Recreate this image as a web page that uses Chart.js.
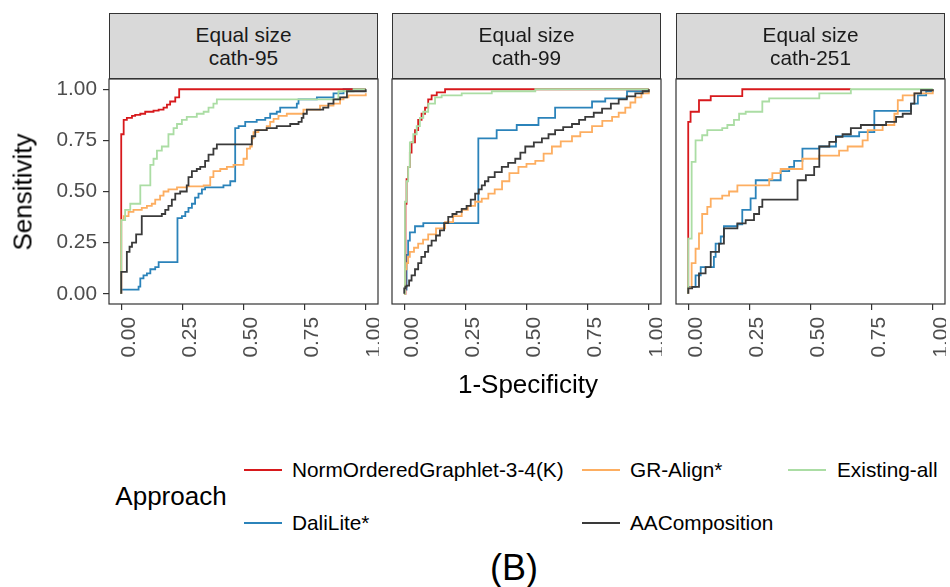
<!DOCTYPE html>
<html>
<head>
<meta charset="utf-8">
<script src="https://cdn.jsdelivr.net/npm/chart.js@4/dist/chart.umd.min.js"></script>
<style>
  html, body { margin: 0; padding: 0; background: #fff; }
  #wrap { position: relative; width: 950px; height: 587px; overflow: hidden; font-family: 'Liberation Sans', Arial, sans-serif; }
  #wrap canvas { position: absolute; }
  .strip { position: absolute; top: 13px; width: 269px; height: 66px; box-sizing: border-box;
    background: #D9D9D9; border: 1px solid #333; display: flex; align-items: center; justify-content: center;
    text-align: center; font-size: 20.8px; line-height: 23px; color: #1A1A1A; }
  .txt { position: absolute; white-space: nowrap; transform: translate(-50%, -50%); color: #000; }
  .key { position: absolute; height: 2px; }
  .lab { position: absolute; white-space: nowrap; font-size: 20.8px; color: #000; transform: translateY(-50%); }
</style>
</head>
<body>
<div id="wrap">
  <canvas id="p1"></canvas>
  <canvas id="p2"></canvas>
  <canvas id="p3"></canvas>
</div>
<script>
// ---- data ----
const tickValues = [0, 0.25, 0.5, 0.75, 1];
const panelTitles = [['Equal size', 'cath-95'], ['Equal size', 'cath-99'], ['Equal size', 'cath-251']];
const seriesNames = ['NormOrderedGraphlet-3-4(K)', 'GR-Align*', 'Existing-all', 'DaliLite*', 'AAComposition'];

// cath-95
const c95NormX = [0, 0, 0.01, 0.023, 0.044, 0.057, 0.078, 0.098, 0.132, 0.153, 0.173, 0.187, 0.2, 0.221, 0.237, 1];
const c95NormY = [0, 0.78, 0.85, 0.86, 0.87, 0.875, 0.88, 0.89, 0.895, 0.9, 0.91, 0.925, 0.94, 0.96, 1, 1];
const c95GrX = [0, 0, 0.01, 0.03, 0.05, 0.084, 0.105, 0.125, 0.139, 0.159, 0.173, 0.193, 0.228, 0.268, 0.337, 0.364, 0.377, 0.405, 0.432, 0.459, 0.5, 0.514, 0.527, 0.534, 0.541, 0.561, 0.595, 0.609, 0.623, 0.643, 0.677, 0.745, 0.813, 0.868, 0.895, 0.909, 0.929, 1];
const c95GrY = [0, 0.36, 0.38, 0.4, 0.41, 0.42, 0.43, 0.44, 0.46, 0.48, 0.5, 0.51, 0.52, 0.525, 0.53, 0.57, 0.6, 0.61, 0.62, 0.63, 0.66, 0.71, 0.72, 0.76, 0.79, 0.8, 0.82, 0.84, 0.855, 0.87, 0.88, 0.9, 0.92, 0.93, 0.95, 0.96, 0.97, 0.98];
const c95ExX = [0, 0, 0.016, 0.037, 0.078, 0.119, 0.132, 0.146, 0.166, 0.193, 0.214, 0.228, 0.248, 0.268, 0.309, 0.337, 0.357, 0.377, 0.391, 0.888, 0.95, 1];
const c95ExY = [0, 0.36, 0.41, 0.44, 0.53, 0.63, 0.66, 0.7, 0.72, 0.78, 0.81, 0.83, 0.85, 0.865, 0.88, 0.89, 0.91, 0.93, 0.95, 0.99, 1, 1];
const c95DaliX = [0, 0, 0.071, 0.078, 0.091, 0.105, 0.119, 0.139, 0.153, 0.23, 0.248, 0.262, 0.275, 0.289, 0.302, 0.316, 0.33, 0.343, 0.418, 0.446, 0.466, 0.48, 0.507, 0.554, 0.589, 0.609, 0.636, 0.65, 0.718, 0.725, 0.8, 0.868, 0.909, 1];
const c95DaliY = [0, 0.02, 0.035, 0.075, 0.09, 0.1, 0.12, 0.13, 0.155, 0.37, 0.38, 0.4, 0.42, 0.44, 0.47, 0.49, 0.51, 0.52, 0.53, 0.55, 0.81, 0.82, 0.84, 0.85, 0.86, 0.88, 0.89, 0.91, 0.93, 0.95, 0.96, 0.98, 1, 1];
const c95AaX = [0, 0, 0.023, 0.034, 0.044, 0.061, 0.084, 0.166, 0.18, 0.193, 0.207, 0.221, 0.241, 0.268, 0.275, 0.289, 0.309, 0.323, 0.343, 0.357, 0.377, 0.391, 0.534, 0.548, 0.595, 0.636, 0.691, 0.725, 0.738, 0.745, 0.759, 0.826, 0.847, 0.868, 0.895, 0.923, 1];
const c95AaY = [0, 0.107, 0.205, 0.23, 0.25, 0.29, 0.38, 0.39, 0.41, 0.43, 0.46, 0.49, 0.5, 0.53, 0.57, 0.6, 0.61, 0.62, 0.65, 0.68, 0.71, 0.73, 0.77, 0.8, 0.81, 0.82, 0.83, 0.84, 0.86, 0.88, 0.9, 0.91, 0.93, 0.95, 0.96, 0.99, 1];

// cath-99
const c99NormX = [0, 0.005, 0.0096, 0.016, 0.023, 0.03, 0.044, 0.057, 0.071, 0.085, 0.098, 0.112, 0.133, 0.167, 1];
const c99NormY = [0, 0.44, 0.56, 0.62, 0.69, 0.74, 0.8, 0.85, 0.88, 0.91, 0.95, 0.97, 0.985, 1, 1];
const c99GrX = [0, 0.003, 0.0096, 0.016, 0.023, 0.04, 0.057, 0.077, 0.098, 0.13, 0.167, 0.2, 0.235, 0.26, 0.29, 0.317, 0.344, 0.37, 0.4, 0.43, 0.467, 0.5, 0.536, 0.57, 0.604, 0.64, 0.686, 0.72, 0.768, 0.81, 0.85, 0.877, 0.904, 0.925, 0.945, 0.97, 1];
const c99GrY = [0, 0.12, 0.15, 0.18, 0.205, 0.225, 0.245, 0.265, 0.29, 0.32, 0.35, 0.38, 0.41, 0.43, 0.45, 0.465, 0.49, 0.51, 0.55, 0.59, 0.62, 0.635, 0.65, 0.685, 0.72, 0.745, 0.77, 0.79, 0.82, 0.845, 0.865, 0.885, 0.91, 0.935, 0.96, 0.98, 1];
const c99ExX = [0, 0.003, 0.0096, 0.016, 0.023, 0.037, 0.051, 0.064, 0.078, 0.098, 0.126, 0.153, 0.235, 0.358, 0.536, 1];
const c99ExY = [0, 0.45, 0.55, 0.62, 0.74, 0.78, 0.82, 0.86, 0.89, 0.93, 0.96, 0.97, 0.98, 0.99, 1, 1];
const c99DaliX = [0, 0.003, 0.0096, 0.016, 0.023, 0.044, 0.078, 0.303, 0.378, 0.46, 0.549, 0.617, 0.768, 0.822, 0.911, 1];
const c99DaliY = [0, 0.02, 0.19, 0.26, 0.3, 0.33, 0.345, 0.76, 0.8, 0.825, 0.86, 0.91, 0.94, 0.955, 0.99, 1];
const c99AaX = [0, 0, 0.005, 0.0096, 0.02, 0.03, 0.044, 0.057, 0.07, 0.085, 0.098, 0.112, 0.13, 0.146, 0.163, 0.18, 0.197, 0.214, 0.235, 0.255, 0.272, 0.29, 0.305, 0.317, 0.33, 0.344, 0.37, 0.399, 0.425, 0.454, 0.475, 0.495, 0.53, 0.563, 0.59, 0.617, 0.65, 0.686, 0.715, 0.74, 0.775, 0.809, 0.845, 0.877, 0.91, 0.945, 0.975, 1];
const c99AaY = [0, 0.026, 0.035, 0.04, 0.065, 0.09, 0.12, 0.15, 0.18, 0.205, 0.235, 0.26, 0.285, 0.31, 0.345, 0.376, 0.39, 0.4, 0.415, 0.43, 0.46, 0.49, 0.51, 0.53, 0.55, 0.57, 0.595, 0.62, 0.64, 0.66, 0.69, 0.72, 0.74, 0.76, 0.78, 0.8, 0.815, 0.83, 0.85, 0.865, 0.885, 0.905, 0.93, 0.95, 0.965, 0.98, 0.99, 1];

// cath-251
const c251NormX = [0, 0, 0.0096, 0.044, 0.092, 0.221, 0.665];
const c251NormY = [0, 0.84, 0.89, 0.946, 0.966, 1, 1];
const c251GrX = [0, 0, 0.014, 0.03, 0.044, 0.057, 0.078, 0.092, 0.139, 0.167, 0.201, 0.331, 0.344, 0.378, 0.467, 0.536, 0.617, 0.652, 0.713, 0.734, 0.795, 0.843, 0.857, 0.877, 0.925, 1];
const c251GrY = [0, 0.03, 0.15, 0.22, 0.295, 0.39, 0.425, 0.465, 0.48, 0.5, 0.53, 0.56, 0.59, 0.61, 0.66, 0.675, 0.7, 0.72, 0.75, 0.8, 0.825, 0.88, 0.946, 0.97, 0.98, 1];
const c251ExX = [0, 0, 0.014, 0.03, 0.057, 0.078, 0.139, 0.16, 0.187, 0.208, 0.235, 0.303, 0.331, 0.536, 0.665, 1];
const c251ExY = [0, 0.27, 0.645, 0.75, 0.775, 0.8, 0.81, 0.825, 0.85, 0.88, 0.89, 0.94, 0.955, 0.98, 1, 1];
const c251DaliX = [0, 0, 0.03, 0.051, 0.105, 0.112, 0.133, 0.146, 0.201, 0.221, 0.255, 0.276, 0.378, 0.413, 0.433, 0.467, 0.536, 0.604, 0.699, 0.761, 0.911, 0.939, 0.973, 1];
const c251DaliY = [0, 0.034, 0.09, 0.13, 0.18, 0.245, 0.28, 0.33, 0.34, 0.41, 0.466, 0.555, 0.6, 0.62, 0.65, 0.71, 0.72, 0.77, 0.79, 0.894, 0.93, 0.97, 0.99, 1];
const c251AaX = [0, 0, 0.016, 0.044, 0.071, 0.092, 0.126, 0.146, 0.201, 0.235, 0.269, 0.29, 0.303, 0.447, 0.481, 0.515, 0.536, 0.577, 0.604, 0.631, 0.665, 0.706, 0.809, 0.85, 0.877, 0.911, 0.925, 0.952, 1];
const c251AaY = [0, 0.026, 0.034, 0.1, 0.13, 0.205, 0.245, 0.32, 0.344, 0.36, 0.39, 0.425, 0.46, 0.555, 0.58, 0.62, 0.72, 0.743, 0.767, 0.78, 0.81, 0.825, 0.84, 0.865, 0.88, 0.93, 0.98, 0.995, 1];

// ---- styling ----
const colors = {
  'NormOrderedGraphlet-3-4(K)': '#D7191C',
  'GR-Align*': '#FDAE61',
  'Existing-all': '#ABDDA4',
  'DaliLite*': '#2B83BA',
  'AAComposition': '#3A3A3A'
};
const FONT = "'Liberation Sans', Arial, sans-serif";

function pts(xs, ys) {
  return xs.map((x, i) => ({ x: x, y: ys[i] }));
}

// panel border (ggplot style box)
const panelBox = {
  id: 'panelBox',
  afterDraw(chart) {
    const { ctx, chartArea: a } = chart;
    ctx.save();
    ctx.strokeStyle = '#333333';
    ctx.lineWidth = 1.2;
    ctx.strokeRect(a.left, a.top, a.right - a.left, a.bottom - a.top);
    ctx.restore();
  }
};

function makePanel(id, geom, curves, showY) {
  const cv = document.getElementById(id);
  cv.style.left = geom.left + 'px';
  cv.style.top = '70px';
  cv.style.width = geom.width + 'px';
  cv.style.height = '330px';
  cv.width = geom.width;
  cv.height = 330;

  // first dataset ends up on top
  const drawOrder = ['AAComposition', 'Existing-all', 'GR-Align*', 'NormOrderedGraphlet-3-4(K)', 'DaliLite*'];
  const datasets = drawOrder.map(name => ({
    label: name,
    data: curves[name],
    showLine: true,
    stepped: 'before',   // horizontal run first, then the rise
    borderColor: colors[name],
    borderWidth: 1.8,
    pointRadius: 0,
    fill: false
  }));

  return new Chart(cv, {
    type: 'scatter',
    data: { datasets: datasets },
    plugins: [panelBox],
    options: {
      responsive: false,
      animation: false,
      layout: { padding: { top: 9, right: 1, left: geom.padLeft, bottom: 0 } },
      plugins: { legend: { display: false }, tooltip: { enabled: false } },
      scales: {
        x: {
          type: 'linear',
          min: -0.05, max: 1.05,
          afterBuildTicks: s => { s.ticks = tickValues.map(v => ({ value: v })); },
          afterFit: s => { s.height = 96; s.paddingLeft = 0; s.paddingRight = 0; },
          border: { display: false },
          grid: { drawOnChartArea: false, drawTicks: true, tickLength: 6, color: '#333333', lineWidth: 1.2 },
          ticks: {
            autoSkip: false, minRotation: 90, maxRotation: 90, padding: 7, labelOffset: 8,
            color: '#4D4D4D', font: { family: FONT, size: 20.8 },
            callback: v => v.toFixed(2)
          }
        },
        y: {
          type: 'linear',
          display: showY,
          min: -0.05, max: 1.05,
          afterBuildTicks: s => { s.ticks = tickValues.map(v => ({ value: v })); },
          afterFit: s => { if (showY) { s.width = 109; } s.paddingTop = 0; s.paddingBottom = 0; },
          border: { display: false },
          grid: { drawOnChartArea: false, drawTicks: true, tickLength: 6, color: '#333333', lineWidth: 1.2 },
          ticks: {
            padding: 6, color: '#4D4D4D', font: { family: FONT, size: 20.8 },
            callback: v => v.toFixed(2)
          }
        }
      }
    }
  });
}

makePanel('p1', { left: 0, width: 379, padLeft: 0 }, {
  'NormOrderedGraphlet-3-4(K)': pts(c95NormX, c95NormY),
  'GR-Align*': pts(c95GrX, c95GrY),
  'Existing-all': pts(c95ExX, c95ExY),
  'DaliLite*': pts(c95DaliX, c95DaliY),
  'AAComposition': pts(c95AaX, c95AaY)
}, true);

makePanel('p2', { left: 380, width: 282, padLeft: 12 }, {
  'NormOrderedGraphlet-3-4(K)': pts(c99NormX, c99NormY),
  'GR-Align*': pts(c99GrX, c99GrY),
  'Existing-all': pts(c99ExX, c99ExY),
  'DaliLite*': pts(c99DaliX, c99DaliY),
  'AAComposition': pts(c99AaX, c99AaY)
}, false);

makePanel('p3', { left: 663, width: 283, padLeft: 13 }, {
  'NormOrderedGraphlet-3-4(K)': pts(c251NormX, c251NormY),
  'GR-Align*': pts(c251GrX, c251GrY),
  'Existing-all': pts(c251ExX, c251ExY),
  'DaliLite*': pts(c251DaliX, c251DaliY),
  'AAComposition': pts(c251AaX, c251AaY)
}, false);

// ---- text: strips, axis titles, legend, caption ----
const wrap = document.getElementById('wrap');
function addEl(cls, css, html) {
  const d = document.createElement('div');
  d.className = cls;
  Object.assign(d.style, css);
  if (html !== undefined) d.innerHTML = html;
  wrap.appendChild(d);
  return d;
}

[109, 392, 676].forEach((left, i) => {
  addEl('strip', { left: left + 'px' }, panelTitles[i].join('<br>'));
});

addEl('txt', { left: '23px', top: '192px', fontSize: '26px', transform: 'translate(-50%, -50%) rotate(-90deg)' }, 'Sensitivity');
addEl('txt', { left: '528px', top: '384px', fontSize: '26px' }, '1-Specificity');
addEl('txt', { left: '171px', top: '496px', fontSize: '26px' }, 'Approach');

const legendSlots = [
  { name: 'NormOrderedGraphlet-3-4(K)', key: 244, text: 292, cy: 470 },
  { name: 'GR-Align*', key: 582, text: 630, cy: 470 },
  { name: 'Existing-all', key: 788, text: 837, cy: 470 },
  { name: 'DaliLite*', key: 244, text: 292, cy: 523 },
  { name: 'AAComposition', key: 582, text: 630, cy: 523 }
];
legendSlots.forEach(s => {
  addEl('key', { left: s.key + 'px', top: (s.cy - 1) + 'px', width: '38px', background: colors[s.name] });
  addEl('lab', { left: s.text + 'px', top: s.cy + 'px' }, s.name);
});

addEl('txt', { left: '514px', top: '568px', fontSize: '36px' }, '(B)');
</script>
</body>
</html>
